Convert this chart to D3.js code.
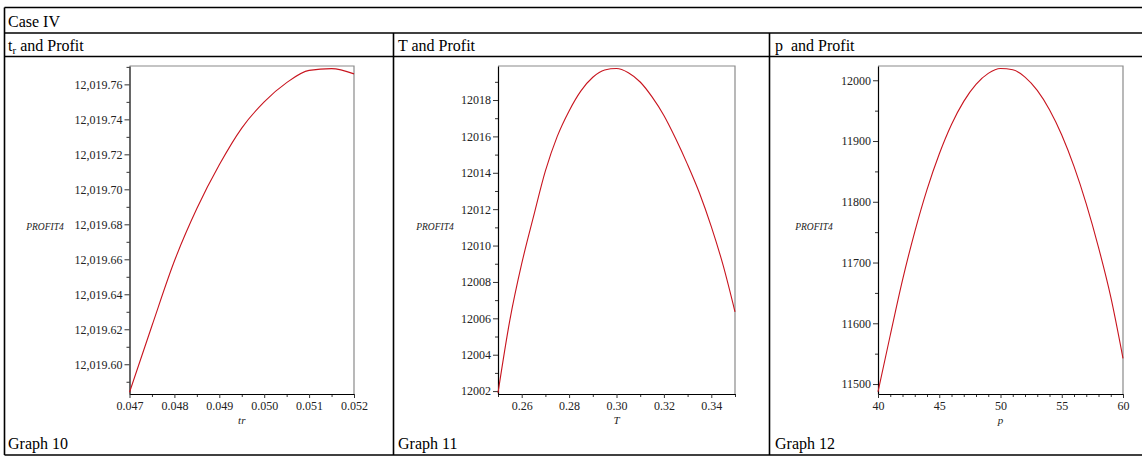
<!DOCTYPE html>
<html><head><meta charset="utf-8">
<script src="https://cdn.jsdelivr.net/npm/d3@7"></script>
<style>body{margin:0;background:#fff}svg{display:block}</style>
</head><body>
<svg id="c" width="1142" height="457"></svg>
<script>
// ---------- data ----------
const caseTitle = "Case IV";
const panelTitles = ["and Profit", "T and Profit", "p  and Profit"];
const graphLabels = ["Graph 10", "Graph 11", "Graph 12"];
const yAxisTitle = "PROFIT4";
const xAxisTitles = ["tr", "T", "p"];

// Graph 10 : tr vs profit
const trValues = [0.047, 0.0475, 0.048, 0.0485, 0.049, 0.0495, 0.050, 0.0505, 0.051, 0.0515, 0.052];
const profitByTr = [12019.584, 12019.622, 12019.659, 12019.689, 12019.714, 12019.735, 12019.750, 12019.761, 12019.768, 12019.769, 12019.766];
const trTicks = [0.047, 0.048, 0.049, 0.050, 0.051, 0.052];
const trTickLabels = ["0.047", "0.048", "0.049", "0.050", "0.051", "0.052"];
const trMinorTicks = [0.0475, 0.0485, 0.0495, 0.0505, 0.0515];
const trProfitTicks = [12019.60, 12019.62, 12019.64, 12019.66, 12019.68, 12019.70, 12019.72, 12019.74, 12019.76];
const trProfitTickLabels = ["12,019.60", "12,019.62", "12,019.64", "12,019.66", "12,019.68", "12,019.70", "12,019.72", "12,019.74", "12,019.76"];
const trProfitMinorTicks = [12019.59, 12019.61, 12019.63, 12019.65, 12019.67, 12019.69, 12019.71, 12019.73, 12019.75, 12019.77];
const trExtent = [0.047, 0.052];
const trProfitExtent = [12019.583, 12019.7705];

// Graph 11 : T vs profit
const TValues = [0.25, 0.255, 0.26, 0.265, 0.27, 0.275, 0.28, 0.285, 0.29, 0.295, 0.30, 0.305, 0.31, 0.315, 0.32, 0.325, 0.33, 0.335, 0.34, 0.345, 0.35];
const profitByT = [12001.9, 12005.9, 12009.0, 12011.6, 12014.1, 12016.0, 12017.4, 12018.5, 12019.25, 12019.65, 12019.73, 12019.50, 12018.99, 12018.17, 12017.15, 12015.87, 12014.45, 12012.89, 12011.04, 12008.91, 12006.36];
const TTicks = [0.26, 0.28, 0.30, 0.32, 0.34];
const TTickLabels = ["0.26", "0.28", "0.30", "0.32", "0.34"];
const TMinorTicks = [0.25, 0.27, 0.29, 0.31, 0.33, 0.35];
const TProfitTicks = [12002, 12004, 12006, 12008, 12010, 12012, 12014, 12016, 12018];
const TProfitTickLabels = ["12002", "12004", "12006", "12008", "12010", "12012", "12014", "12016", "12018"];
const TProfitMinorTicks = [12003, 12005, 12007, 12009, 12011, 12013, 12015, 12017, 12019];
const TExtent = [0.25, 0.35];
const TProfitExtent = [12001.84, 12019.87];

// Graph 12 : p vs profit
const pValues = [40, 41, 42, 43, 44, 45, 46, 47, 48, 49, 50, 51, 52, 53, 54, 55, 56, 57, 58, 59, 60];
const profitByP = [11487.3, 11580.3, 11671.1, 11750.6, 11820.1, 11878.7, 11927.3, 11965.3, 11993.3, 12011.3, 12019.3, 12017.3, 12005.3, 11983.3, 11951.5, 11909.9, 11858.2, 11796.6, 11725.0, 11643.5, 11542.4];
const pTicks = [40, 45, 50, 55, 60];
const pTickLabels = ["40", "45", "50", "55", "60"];
const pMinorTicks = [41, 42, 43, 44, 46, 47, 48, 49, 51, 52, 53, 54, 56, 57, 58, 59];
const pProfitTicks = [11500, 11600, 11700, 11800, 11900, 12000];
const pProfitTickLabels = ["11500", "11600", "11700", "11800", "11900", "12000"];
const pProfitMinorTicks = [11550, 11650, 11750, 11850, 11950];
const pExtent = [40, 60];
const pProfitExtent = [11483.6, 12023.5];

// ---------- layout ----------
const svg = d3.select("#c");
const W = 1142;
const serif = "'Liberation Serif','Times New Roman',serif";
const colX = [4.5, 393.5, 769.5];
const rowY = [7.5, 33, 56.5, 455];

// table lines
const tbl = svg.append("g").attr("stroke", "#000").attr("stroke-width", 1.6);
rowY.forEach(y => tbl.append("line").attr("x1", colX[0]).attr("x2", W).attr("y1", y).attr("y2", y));
tbl.append("line").attr("x1", colX[0]).attr("x2", colX[0]).attr("y1", rowY[0]).attr("y2", rowY[3]);
[colX[1], colX[2]].forEach(x => tbl.append("line").attr("x1", x).attr("x2", x).attr("y1", rowY[1]).attr("y2", rowY[3]));

const txt = svg.append("g").attr("font-family", serif).attr("font-size", 16).attr("fill", "#000");
txt.append("text").attr("x", 8).attr("y", 27).text(caseTitle);
const h0 = txt.append("text").attr("x", 8).attr("y", 50.5);
h0.append("tspan").text("t");
h0.append("tspan").attr("font-size", 11).attr("dy", 3).text("r");
h0.append("tspan").attr("dy", -3).text(" " + panelTitles[0]);
txt.append("text").attr("x", 398).attr("y", 50.5).text(panelTitles[1]);
txt.append("text").attr("x", 775).attr("y", 50.5).attr("xml:space", "preserve").style("white-space", "pre").text(panelTitles[2]);
graphLabels.forEach((g, i) => txt.append("text").attr("x", [8, 398, 775][i]).attr("y", 449).text(g));

const panels = [
  {xs: trValues, ys: profitByTr, xExt: trExtent, yExt: trProfitExtent, xr: [129.5, 354], yr: [394, 66],
   xt: trTicks, xtl: trTickLabels, xm: trMinorTicks, yt: trProfitTicks, ytl: trProfitTickLabels, ym: trProfitMinorTicks,
   title: xAxisTitles[0], yTitleX: 45},
  {xs: TValues, ys: profitByT, xExt: TExtent, yExt: TProfitExtent, xr: [498, 735], yr: [394, 66],
   xt: TTicks, xtl: TTickLabels, xm: TMinorTicks, yt: TProfitTicks, ytl: TProfitTickLabels, ym: TProfitMinorTicks,
   title: xAxisTitles[1], yTitleX: 435},
  {xs: pValues, ys: profitByP, xExt: pExtent, yExt: pProfitExtent, xr: [878, 1123], yr: [394, 66],
   xt: pTicks, xtl: pTickLabels, xm: pMinorTicks, yt: pProfitTicks, ytl: pProfitTickLabels, ym: pProfitMinorTicks,
   title: xAxisTitles[2], yTitleX: 814}
];

panels.forEach(p => {
  const x = d3.scaleLinear().domain(p.xExt).range(p.xr);
  const y = d3.scaleLinear().domain(p.yExt).range(p.yr);
  const g = svg.append("g");

  // frame (top & right, grey)
  g.append("path")
    .attr("d", `M${p.xr[0]},${p.yr[1]}H${p.xr[1]}V${p.yr[0]}`)
    .attr("fill", "none").attr("stroke", "#8a8a8a").attr("stroke-width", 1.2);

  // minor ticks
  g.append("g").attr("transform", `translate(${p.xr[0]},0)`)
    .call(d3.axisLeft(y).tickValues(p.ym).tickSize(3).tickFormat("").tickSizeOuter(0))
    .call(a => a.select(".domain").remove());
  g.append("g").attr("transform", `translate(0,${p.yr[0]})`)
    .call(d3.axisBottom(x).tickValues(p.xm).tickSize(3).tickFormat("").tickSizeOuter(0))
    .call(a => a.select(".domain").remove());

  // major axes
  const ya = g.append("g").attr("transform", `translate(${p.xr[0]},0)`)
    .call(d3.axisLeft(y).tickValues(p.yt).tickSize(5).tickPadding(2).tickSizeOuter(0)
      .tickFormat((d, i) => p.ytl[i]));
  const xa = g.append("g").attr("transform", `translate(0,${p.yr[0]})`)
    .call(d3.axisBottom(x).tickValues(p.xt).tickSize(4).tickPadding(3).tickSizeOuter(0)
      .tickFormat((d, i) => p.xtl[i]));
  [ya, xa].forEach(a => a.attr("font-family", serif).attr("font-size", 12));
  g.selectAll(".domain").attr("stroke", "#000").attr("stroke-width", 1.2);
  g.selectAll(".tick line").attr("stroke", "#333");
  g.selectAll(".tick text").attr("fill", "#222");

  // titles
  g.append("text").attr("x", (p.xr[0] + p.xr[1]) / 2).attr("y", 424)
    .attr("text-anchor", "middle").attr("font-family", serif).attr("font-style", "italic")
    .attr("font-size", 11).attr("fill", "#222").text(p.title);
  g.append("text").attr("x", p.yTitleX).attr("y", 230)
    .attr("text-anchor", "middle").attr("font-family", serif).attr("font-style", "italic")
    .attr("font-size", 9.5).attr("fill", "#222").text(yAxisTitle);

  // curve
  const line = d3.line().x((d, i) => x(p.xs[i])).y(d => y(d)).curve(d3.curveMonotoneX);
  g.append("path").datum(p.ys).attr("d", line)
    .attr("fill", "none").attr("stroke", "#c8141e").attr("stroke-width", 1.1);
});
</script>
</body></html>
